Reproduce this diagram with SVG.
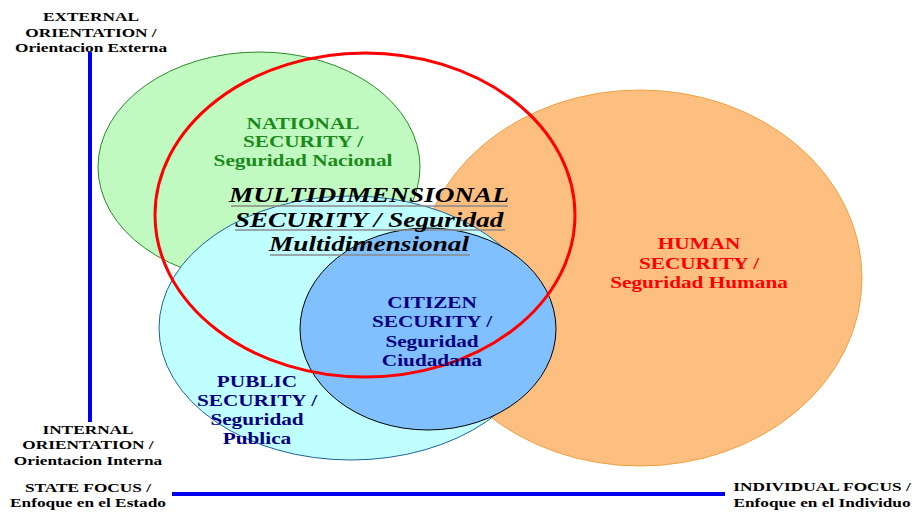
<svg xmlns="http://www.w3.org/2000/svg" width="914" height="513" viewBox="0 0 914 513">
<style>
text{font-family:"Liberation Serif","Times New Roman",serif;font-weight:bold;text-anchor:middle}
.ax{font-size:13px;fill:#000}
.lbl{font-size:17px}
.multi{font-size:22px;font-style:italic;fill:#000}
.ul{stroke:#8a8a8a;stroke-width:1.5}
.axis{stroke:#0000ee;stroke-width:4;fill:none}
</style>
<rect width="914" height="513" fill="#fff"/>
<g id="national"><ellipse cx="259" cy="167" rx="161" ry="115" fill="#c0fac0" stroke="#2a8a2a" stroke-width="1"/></g>
<g id="human"><ellipse cx="640" cy="278" rx="222" ry="188" fill="#fdbf80" stroke="#f0a040" stroke-width="1"/></g>
<g id="public"><ellipse cx="351" cy="328" rx="192" ry="132" fill="#c0ffff" stroke="#2060a0" stroke-width="1"/></g>
<g id="citizen"><ellipse cx="428" cy="329" rx="128" ry="101" fill="#80c0ff" stroke="#000" stroke-width="1"/></g>
<g id="multidimensional"><ellipse cx="365" cy="215" rx="210" ry="162" fill="none" stroke="#ff0000" stroke-width="3"/></g>
<g id="connectors">
<line class="axis" x1="90" y1="52" x2="90" y2="422"/>
<line class="axis" x1="172" y1="494" x2="725" y2="494"/>
</g>
<g id="labels">
<text class="lbl" fill="#1a8a1a" transform="translate(303,0) scale(1.25,1)"><tspan x="0" y="129">NATIONAL</tspan><tspan x="0" y="147">SECURITY /</tspan><tspan x="0" y="166">Seguridad Nacional</tspan></text>
<g id="multi-underlines">
<line class="ul" x1="231" y1="206" x2="508" y2="206"/>
<line class="ul" x1="235" y1="230" x2="505" y2="230"/>
<line class="ul" x1="270" y1="255" x2="470" y2="255"/>
</g>
<text class="multi" transform="translate(369,0) scale(1.24,1)"><tspan x="0" y="202">MULTIDIMENSIONAL</tspan><tspan x="0" y="227">SECURITY / Seguridad</tspan><tspan x="0" y="251">Multidimensional</tspan></text>
<text class="lbl" fill="#ff0000" transform="translate(699,0) scale(1.25,1)"><tspan x="0" y="249">HUMAN</tspan><tspan x="0" y="269">SECURITY /</tspan><tspan x="0" y="288">Seguridad Humana</tspan></text>
<text class="lbl" fill="#000080" transform="translate(432,0) scale(1.25,1)"><tspan x="0" y="308">CITIZEN</tspan><tspan x="0" y="327">SECURITY /</tspan><tspan x="0" y="347">Seguridad</tspan><tspan x="0" y="366">Ciudadana</tspan></text>
<text class="lbl" fill="#000080" transform="translate(257,0) scale(1.25,1)"><tspan x="0" y="387">PUBLIC</tspan><tspan x="0" y="406">SECURITY /</tspan><tspan x="0" y="425">Seguridad</tspan><tspan x="0" y="444">Publica</tspan></text>
<text class="ax" transform="translate(91,0) scale(1.33,1)"><tspan x="0" y="21">EXTERNAL</tspan><tspan x="0" y="37">ORIENTATION /</tspan><tspan x="0" y="52">Orientacion Externa</tspan></text>
<text class="ax" transform="translate(88,0) scale(1.33,1)"><tspan x="0" y="434">INTERNAL</tspan><tspan x="0" y="449">ORIENTATION /</tspan><tspan x="0" y="465">Orientacion Interna</tspan></text>
<text class="ax" transform="translate(88,0) scale(1.33,1)"><tspan x="0" y="492">STATE FOCUS /</tspan><tspan x="0" y="507">Enfoque en el Estado</tspan></text>
<text class="ax" transform="translate(822,0) scale(1.33,1)"><tspan x="0" y="491">INDIVIDUAL FOCUS /</tspan><tspan x="0" y="507">Enfoque en el Individuo</tspan></text>
</g>
</svg>
